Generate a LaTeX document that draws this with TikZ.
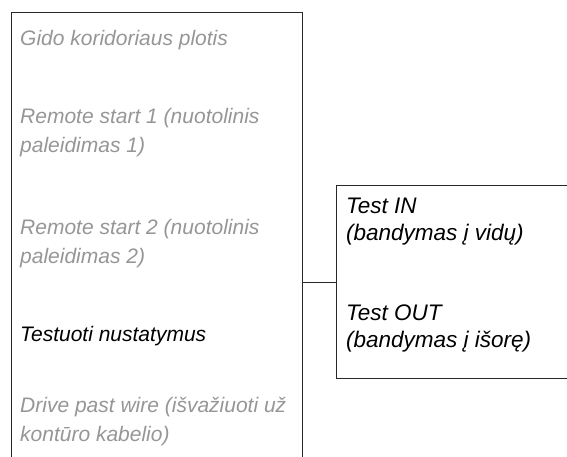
\documentclass[tikz,border=0pt]{standalone}
\usepackage{fontspec}
\setmainfont{Liberation Sans}
\definecolor{lightgraytext}{RGB}{150,150,150}
\definecolor{boxline}{RGB}{40,40,40}
\tikzset{
  x=1pt, y=-1pt,
  frame/.style={draw=boxline, line width=1pt, inner sep=0pt, rectangle},
  itemtext/.style={anchor=base west, inner sep=0pt, align=left,
    font=\fontsize{21}{29}\selectfont\itshape},
  dim/.style={itemtext, text=lightgraytext},
  act/.style={itemtext, text=black},
  acttight/.style={act, font=\fontsize{22.5}{27}\selectfont\itshape},
  wire/.style={draw=boxline, line width=1pt}
}
\begin{document}
\begin{tikzpicture}
\useasboundingbox (0,0) rectangle (567,456);
\node[frame, anchor=north west, minimum width=291pt, minimum height=470pt] (lbox) at (11,12) {};
\node[frame, anchor=north west, minimum width=250pt, minimum height=193pt] (rbox) at (336,185) {};
\node[dim] (t1) at (20,45) {Gido koridoriaus plotis};
\node[dim] (t2) at (20,152) {Remote start 1 (nuotolinis\\paleidimas 1)};
\node[dim] (t3) at (20,263) {Remote start 2 (nuotolinis\\paleidimas 2)};
\node[act] (t4) at (20,341) {Testuoti nustatymus};
\node[dim] (t5) at (20,441) {Drive past wire (išvažiuoti už\\kontūro kabelio)};
\node[acttight] (r1) at (346,240) {Test IN\\(bandymas į vidų)};
\node[acttight] (r2) at (346,347) {Test OUT\\(bandymas į išorę)};
\coordinate (c) at (0,282);
\draw[wire] (c -| lbox.east) -- (c -| rbox.west);
\end{tikzpicture}
\end{document}
